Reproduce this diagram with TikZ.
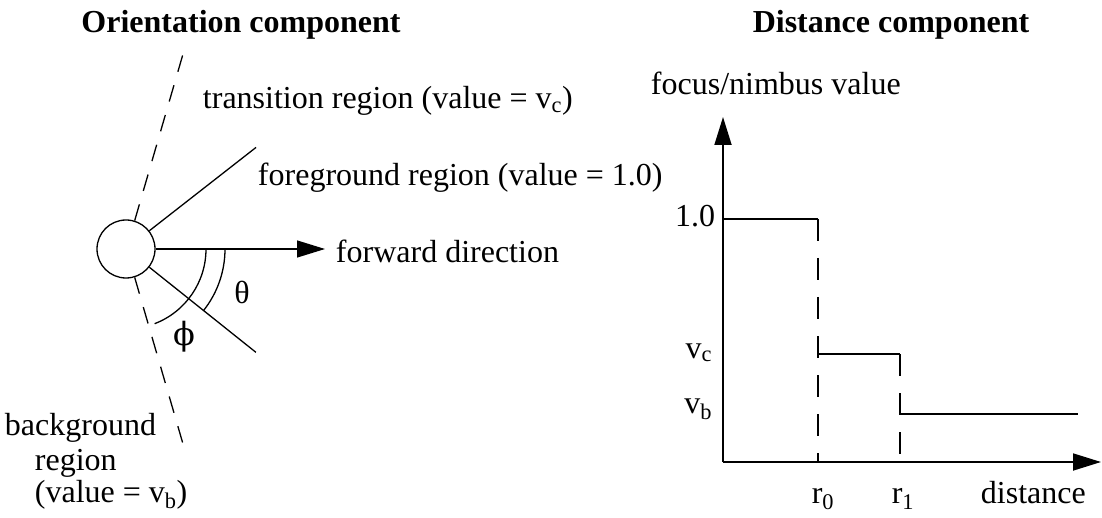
\documentclass[tikz,border=0pt]{standalone}
\usepackage{fontspec}
\setmainfont{Liberation Serif}
\newfontfamily\greekfont{DejaVu Serif}
\usetikzlibrary{arrows.meta,positioning}

\def\eyesize{58pt}
\def\tipsize{length=28pt,width=17pt}

\begin{document}
\begin{tikzpicture}[x=1pt,y=1pt,line width=1.3pt,font=\fontsize{32}{38}\selectfont]
    \tikzstyle{title}=[font=\fontsize{32}{38}\selectfont\bfseries,anchor=base]
    \tikzstyle{annot}=[anchor=base west]
    \tikzstyle{eye}=[circle,draw,minimum size=\eyesize,inner sep=0pt]
    \tikzstyle{boundary}=[dash pattern=on 17pt off 14pt]
    \tikzstyle{guide}=[dash pattern=on 22pt off 17pt]
    \tikzstyle{pointer}=[-{Triangle[\tipsize]}]
    \tikzstyle{axis}=[pointer,line width=1.8pt]

    \useasboundingbox (0,0) rectangle (1102,517);

    % Orientation component
    \node[title] (otitle) at (241,484) {Orientation component};
    \node[eye] (eye) at (126,268) {};

    % Ends of the region boundaries
    \path (eye.center) ++(38:165) coordinate (fgtop);
    \path (eye.center) ++(-38.5:166) coordinate (fgbot);
    \path (eye.center) ++(73.7:204) coordinate (bgtop);
    \path (eye.center) ++(-73.7:202) coordinate (bgbot);

    \draw (eye.38) -- (fgtop);
    \draw (eye.-38.5) -- (fgbot);
    \draw[boundary] (eye.73.7) -- (bgtop);
    \draw[boundary] (eye.-73.7) -- (bgbot);

    % Forward direction and the two angles
    \node[annot] (fwd) at (332,254) {forward direction};
    \coordinate (fwdtip) at (325,268);
    \draw[pointer] (eye.east) -- (fwdtip);
    \draw (eye.center) ++(0:99) arc[start angle=0,end angle=-38.5,radius=99];
    \draw (eye.center) ++(0:80) arc[start angle=0,end angle=-69,radius=80];
    \node (theta) at (242,225) {θ};
    \node (phi) at (184,180) {\greekfont ϕ};

    % Region labels
    \node[annot] (trans) at (199,408) {transition region (value = v\textsubscript{c})};
    \node[annot] (fore) at (254,331) {foreground region (value = 1.0)};
    \node[annot] (back1) at (1,82) {background};
    \node[annot] (back2) at (31,47) {region};
    \node[annot] (back3) at (31,15) {(value = v\textsubscript{b})};

    % Distance component
    \node[title] (dtitle) at (891,484) {Distance component};
    \coordinate (O) at (723,55);
    \coordinate (ytip) at (723,400);
    \coordinate (xtip) at (1101,55);
    \draw[axis] (O) -- (ytip);
    \draw[axis] (O) -- (xtip);
    \node[annot] (ylab) at (647,422) {focus/nimbus value};

    % The step function
    \coordinate (s0) at (723,298);
    \coordinate (s1) at (818,298);
    \coordinate (s2) at (818,163);
    \coordinate (s3) at (900,163);
    \coordinate (s4) at (900,103);
    \coordinate (s5) at (1078,103);
    \draw (s0) -- (s1);
    \draw (s2) -- (s3);
    \draw (s4) -- (s5);
    \draw[guide] (s1) -- (s1 |- O);
    \draw[guide] (s3) -- (s3 |- O);

    % Annotate the axes
    \node[anchor=base east] (one) at (719,290) {1.0};
    \node[anchor=base east] (vc) at (716,159) {v\textsubscript{c}};
    \node[anchor=base east] (vb) at (716,104) {v\textsubscript{b}};
    \node[anchor=base] (r0) at (823,14) {r\textsubscript{0}};
    \node[anchor=base] (r1) at (903,14) {r\textsubscript{1}};
    \node[annot] (dist) at (977,14) {distance};
\end{tikzpicture}
\end{document}
